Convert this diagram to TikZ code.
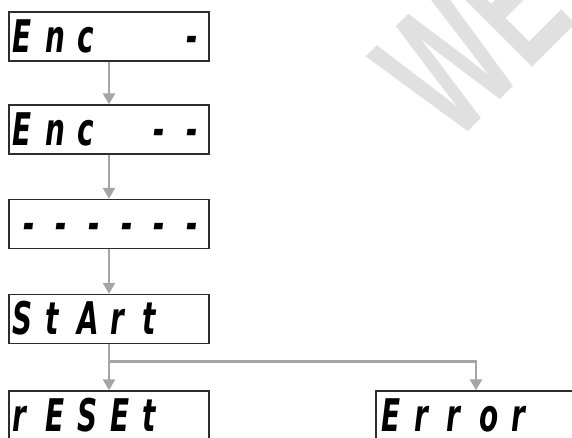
\documentclass[tikz,border=0pt]{standalone}
\usepackage{fontspec}
\usepackage{graphicx}
\setmainfont{DejaVu Sans}
\newfontfamily\wmfont{Liberation Sans}
\usetikzlibrary{arrows.meta,calc}
\definecolor{arrgray}{RGB}{165,165,165}
\definecolor{boxline}{RGB}{45,45,45}
\definecolor{wmgray}{RGB}{224,224,224}
\newcommand\cel[1]{\makebox[32.5pt][l]{\scalebox{0.62}[1]{#1}}}
\newcommand\dsh{\makebox[32.5pt][l]{\hspace{11pt}\scalebox{0.62}[1]{-}}}
\tikzset{
  disp/.style={draw=boxline, line width=1.4pt, minimum width=200pt, minimum height=49pt, inner sep=0pt, fill=white},
  segtxt/.style={anchor=base west, inner sep=0pt, font=\fontsize{45}{45}\selectfont\bfseries\itshape},
  arr/.style={draw=arrgray, line width=2.8pt, -{Triangle[width=12pt,length=11pt]}, arrgray}
}
\begin{document}
\begin{tikzpicture}[x=1pt,y=1pt]
\useasboundingbox (0,0) rectangle (572,-437);
% watermark
\node[anchor=base west, rotate=45, inner sep=0pt, text=wmgray, font=\wmfont\bfseries] (wm) at (454,-146)
  {\scalebox{0.6}[1]{\fontsize{182}{182}\selectfont WE}};
% boxes
\node[disp] (b1) at (109,-36.5) {};
\node[disp] (b2) at (109,-129.5) {};
\node[disp] (b3) at (109,-224) {};
\node[disp] (b4) at (109,-319) {};
\node[disp] (b5) at (109,-415.5) {};
\node[disp] (b6) at (476,-415.5) {};
% texts
\node[segtxt] (t1) at ($(b1.north west)+(4,-41)$) {\cel{E}\cel{n}\cel{c}\cel{}\cel{}\dsh};
\node[segtxt] (t2) at ($(b2.north west)+(4,-41)$) {\cel{E}\cel{n}\cel{c}\cel{}\dsh\dsh};
\node[segtxt] (t3) at ($(b3.north west)+(4,-41)$) {\dsh\dsh\dsh\dsh\dsh\dsh};
\node[segtxt] (t4) at ($(b4.north west)+(4,-41)$) {\cel{S}\cel{t}\cel{A}\cel{r}\cel{t}};
\node[segtxt] (t5) at ($(b5.north west)+(4,-41)$) {\cel{r}\cel{E}\cel{S}\cel{E}\cel{t}};
\node[segtxt] (t6) at ($(b6.north west)+(6,-41)$) {\cel{E}\cel{r}\cel{r}\cel{o}\cel{r}};
% connectors
\draw[arr] (b1) -- (b2);
\draw[arr] (b2) -- (b3);
\draw[arr] (b3) -- (b4);
\draw[arr] (b4) -- (b5);
\coordinate (br) at ($(b4.south)+(0,-17)$);
\draw[arr] (br) -| (b6.north);
\end{tikzpicture}
\end{document}
